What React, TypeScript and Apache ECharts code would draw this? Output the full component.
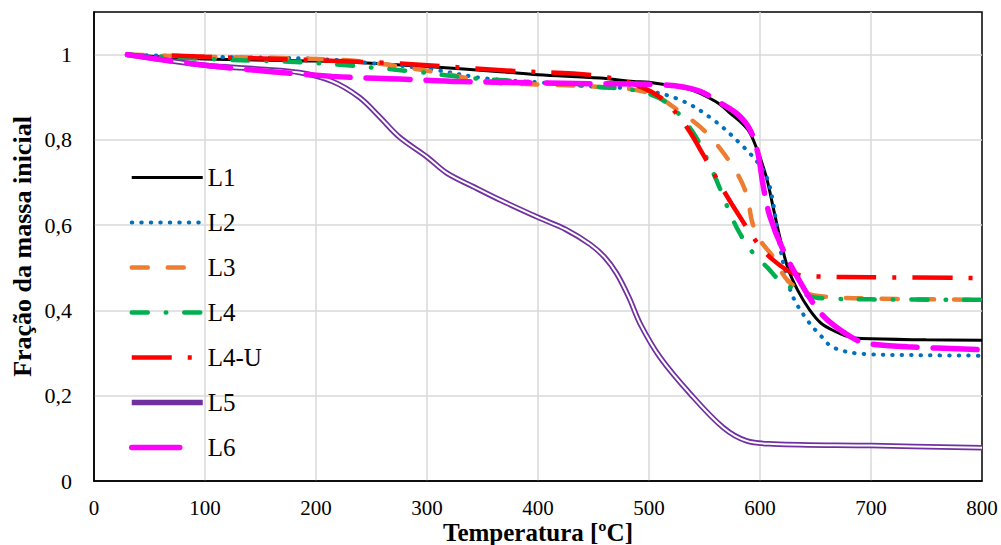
import React, { useEffect, useRef } from "react";
import * as echarts from "echarts";

const seriesNames = ["L1", "L2", "L3", "L4", "L4-U", "L5", "L6"];

const L1: number[][] = [[30,1],[100,0.99],[200,0.985],[250,0.98],[300,0.972],[366,0.96],[400,0.953],[456,0.945],[486,0.937],[500,0.935],[537,0.918],[560,0.89],[573,0.863],[589,0.824],[597,0.78],[603,0.736],[607,0.70],[612,0.64],[618,0.57],[625,0.50],[634,0.447],[645,0.40],[655,0.37],[666,0.353],[680,0.338],[691,0.334],[750,0.331],[800,0.33]];
const L2: number[][] = [[30,1],[100,0.995],[200,0.99],[250,0.98],[305,0.965],[350,0.945],[400,0.935],[450,0.925],[492,0.918],[528,0.894],[558,0.847],[585,0.784],[600,0.74],[607,0.706],[612,0.65],[618,0.548],[624,0.48],[630,0.43],[643,0.376],[655,0.34],[666,0.313],[693,0.298],[750,0.295],[800,0.294]];
const L3: number[][] = [[30,1],[100,0.995],[200,0.99],[245,0.983],[305,0.96],[360,0.935],[400,0.93],[450,0.925],[500,0.91],[528,0.866],[552,0.816],[576,0.736],[588,0.672],[593,0.607],[600,0.565],[612,0.525],[625,0.47],[643,0.44],[660,0.432],[700,0.428],[800,0.425]];
const L4: number[][] = [[30,1],[100,0.99],[200,0.98],[290,0.96],[340,0.945],[400,0.935],[450,0.925],[490,0.915],[516,0.887],[540,0.816],[558,0.722],[573,0.628],[582,0.58],[594,0.534],[607,0.50],[618,0.47],[643,0.435],[660,0.428],[700,0.426],[800,0.425]];
const L4U: number[][] = [[70,0.998],[100,0.995],[260,0.981],[377,0.962],[450,0.952],[480,0.936],[492,0.925],[504,0.91],[516,0.887],[534,0.83],[550,0.76],[567,0.682],[582,0.619],[598,0.557],[612,0.518],[630,0.487],[650,0.48],[700,0.478],[800,0.476]];
const L5: number[][] = [[30,1],[100,0.975],[150,0.966],[185,0.958],[215,0.937],[239,0.90],[257,0.855],[275,0.807],[300,0.76],[318,0.722],[342,0.69],[366,0.659],[402,0.616],[425,0.59],[447,0.555],[460,0.525],[471,0.486],[482,0.43],[492,0.369],[510,0.29],[537,0.205],[567,0.125],[588,0.094],[612,0.087],[700,0.083],[800,0.078]];
const L6: number[][] = [[30,1],[100,0.975],[215,0.949],[275,0.943],[330,0.937],[396,0.934],[447,0.932],[513,0.929],[545,0.915],[564,0.887],[580,0.86],[591,0.824],[598,0.77],[603,0.69],[609,0.62],[621,0.541],[639,0.454],[655,0.393],[673,0.353],[693,0.325],[733,0.315],[800,0.308]];

const xTicks = [0, 100, 200, 300, 400, 500, 600, 700, 800];
const yTickLabels = ["0", "0,2", "0,4", "0,6", "0,8", "1"];

const FONT = "Liberation Serif";

export default function App() {
  const ref = useRef<HTMLDivElement>(null);
  useEffect(() => {
    document.body.style.margin = "0";
    if (!ref.current) return;
    const chart = echarts.init(ref.current, null, { renderer: "svg" });
    const base = { type: "line", showSymbol: false, symbol: "none", smooth: 0.35 };
    chart.setOption({
      animation: false,
      backgroundColor: "#fff",
      grid: {
        left: 94, right: 19, top: 12, bottom: 64,
        show: true, borderColor: "#000", borderWidth: 1.5,
        containLabel: false, outerBoundsMode: "none",
      },
      legend: {
        orient: "vertical",
        left: 129,
        top: 165,
        padding: 0,
        itemWidth: 71,
        itemHeight: 10,
        itemGap: 20,
        itemStyle: { opacity: 0 },
        lineStyle: { width: "inherit" },
        textStyle: { fontFamily: FONT, fontSize: 25, color: "#000" },
        data: [
          "L1", "L2", "L3", "L4", "L4-U", "L5",
          { name: "L6", lineStyle: { type: [48, 100] } },
        ],
      },
      xAxis: {
        type: "value",
        min: 0,
        max: 800,
        interval: 100,
        name: "Temperatura [ºC]",
        nameLocation: "middle",
        nameGap: 41,
        nameMoveOverlap: false,
        nameTextStyle: { fontFamily: FONT, fontSize: 25, lineHeight: 21, fontWeight: "bold", color: "#000" },
        axisLine: { show: true, lineStyle: { color: "#000", width: 1.5 } },
        axisTick: { show: false },
        axisLabel: {
          fontFamily: FONT, fontSize: 21, lineHeight: 19, color: "#000", margin: 17,
          formatter: (v: number) => (xTicks.includes(v) ? String(v) : ""),
        },
        splitLine: { show: true, showMinLine: false, showMaxLine: false, lineStyle: { color: "#d9d9d9", width: 1.5 } },
      },
      yAxis: {
        type: "value",
        min: 0,
        max: 1.1,
        interval: 0.2,
        name: "Fração da massa inicial",
        nameLocation: "middle",
        nameGap: 60,
        nameMoveOverlap: false,
        nameTextStyle: { fontFamily: FONT, fontSize: 26, lineHeight: 24, fontWeight: "bold", color: "#000" },
        axisLine: { show: true, lineStyle: { color: "#000", width: 1.5 } },
        axisTick: { show: false },
        axisLabel: {
          fontFamily: FONT, fontSize: 22, color: "#000", margin: 22, showMaxLabel: false,
          formatter: (v: number) => {
            const i = Math.round(v / 0.2);
            if (Math.abs(v - i * 0.2) > 1e-6 || i >= yTickLabels.length) return "";
            return yTickLabels[i];
          },
        },
        splitLine: { show: true, showMinLine: false, showMaxLine: false, lineStyle: { color: "#d9d9d9", width: 1.5 } },
      },
      series: [
        { ...base, name: "L1", data: L1, color: "#000000", lineStyle: { color: "#000000", width: 3 } },
        { ...base, name: "L2", data: L2, color: "#0070C0", lineStyle: { color: "#0070C0", width: 4, type: [0.5, 9], cap: "round" } },
        { ...base, name: "L3", data: L3, color: "#ED7D31", lineStyle: { color: "#ED7D31", width: 4.5, type: [16, 20], cap: "round" } },
        { ...base, name: "L4", data: L4, color: "#00B050", lineStyle: { color: "#00B050", width: 4.5, type: [16, 18, 0.5, 18], cap: "round" } },
        { ...base, name: "L4-U", data: L4U, color: "#FF0000", lineStyle: { color: "#FF0000", width: 4.5, type: [40, 16, 4, 16], cap: "butt" } },
        { ...base, name: "L5", data: L5, color: "#7030A0", lineStyle: { color: "#7030A0", width: 5.5 } },
        { ...base, name: "L5-inner", data: L5, color: "#ffffff", silent: true, lineStyle: { color: "#ffffff", width: 2 } },
        { ...base, name: "L6", data: L6, color: "#FF00FF", lineStyle: { color: "#FF00FF", width: 5.5, type: [44, 16], cap: "round" } },
      ],
    });
    return () => chart.dispose();
  }, []);
  return <div ref={ref} style={{ width: 1001, height: 545 }} />;
}
